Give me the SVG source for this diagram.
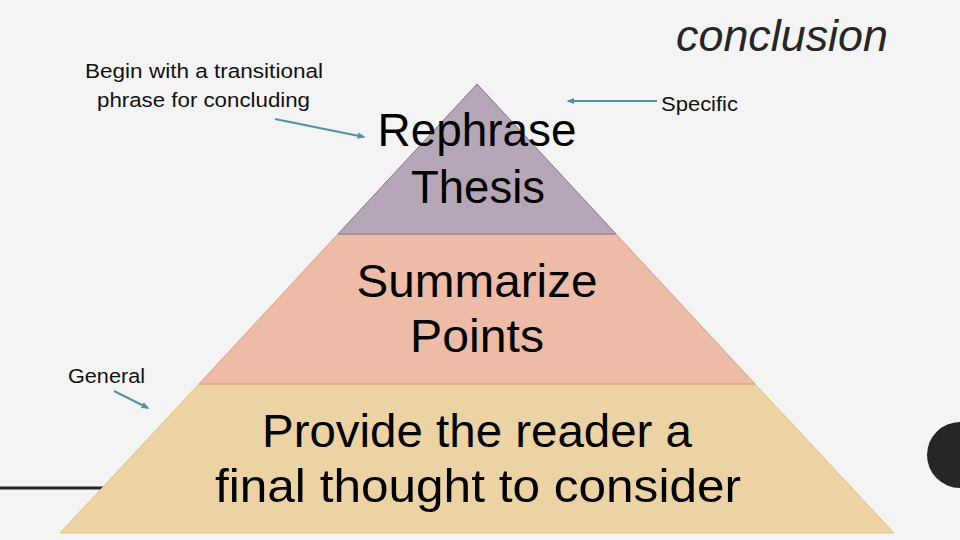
<svg xmlns="http://www.w3.org/2000/svg" width="960" height="540" viewBox="0 0 960 540">
  <style>
    .big { font-family: "Liberation Sans", Arial, sans-serif; font-size: 47px; fill: #000; text-anchor: middle; }
    .small { font-family: "Liberation Sans", Arial, sans-serif; font-size: 20.5px; fill: #111; }
    .title { font-family: "Liberation Sans", Arial, sans-serif; font-size: 45px; font-style: italic; fill: #262626; }
    .arrow { stroke: #4f93a3; stroke-width: 2; fill: none; marker-end: url(#ah); }
  </style>
  <defs>
    <marker id="ah" viewBox="0 0 10 10" refX="8" refY="5" markerWidth="4" markerHeight="4" orient="auto" markerUnits="strokeWidth">
      <path d="M0,1 L10,5 L0,9 Z" fill="#4f93a3"/>
    </marker>
  </defs>
  <rect x="0" y="0" width="960" height="540" fill="#f4f4f4"/>
  <line x1="0" y1="488" x2="104" y2="488" stroke="#262626" stroke-width="3"/>
  <circle cx="960" cy="455" r="33" fill="#262626"/>

  <text class="title" x="676" y="51" textLength="212" lengthAdjust="spacingAndGlyphs">conclusion</text>

  <g id="tier-bottom">
    <polygon points="199,384 755,384 894,533 60,533" fill="#ecd3a3" stroke="#e3c180" stroke-width="1"/>
    <text class="big" x="477" y="447" textLength="430" lengthAdjust="spacingAndGlyphs">Provide the reader a</text>
    <text class="big" x="478" y="502" textLength="526" lengthAdjust="spacingAndGlyphs">final thought to consider</text>
  </g>
  <g id="tier-middle">
    <polygon points="338,234 616,234 755,384 199,384" fill="#edbba6" stroke="#d9a07f" stroke-width="1"/>
    <text class="big" x="477" y="297" textLength="241" lengthAdjust="spacingAndGlyphs">Summarize</text>
    <text class="big" x="477" y="352" textLength="134" lengthAdjust="spacingAndGlyphs">Points</text>
  </g>
  <g id="tier-top">
    <polygon points="477,84 616,234 338,234" fill="#b6a7b8" stroke="#86768c" stroke-width="1"/>
    <text class="big" x="477" y="146" textLength="199" lengthAdjust="spacingAndGlyphs">Rephrase</text>
    <text class="big" x="478" y="203" textLength="134" lengthAdjust="spacingAndGlyphs">Thesis</text>
  </g>

  <g id="label-begin">
    <text class="small" x="85" y="78" textLength="238" lengthAdjust="spacingAndGlyphs">Begin with a transitional</text>
    <text class="small" x="97" y="107" textLength="213" lengthAdjust="spacingAndGlyphs">phrase for concluding</text>
  </g>
  <g id="label-specific">
    <text class="small" x="661" y="111" textLength="77" lengthAdjust="spacingAndGlyphs">Specific</text>
  </g>
  <g id="label-general">
    <text class="small" x="68" y="383" textLength="77" lengthAdjust="spacingAndGlyphs">General</text>
  </g>

  <g id="connectors">
    <line class="arrow" x1="275" y1="119" x2="364" y2="137"/>
    <line class="arrow" x1="657" y1="101" x2="568" y2="101"/>
    <line class="arrow" x1="114" y1="391" x2="148" y2="408"/>
  </g>
</svg>
